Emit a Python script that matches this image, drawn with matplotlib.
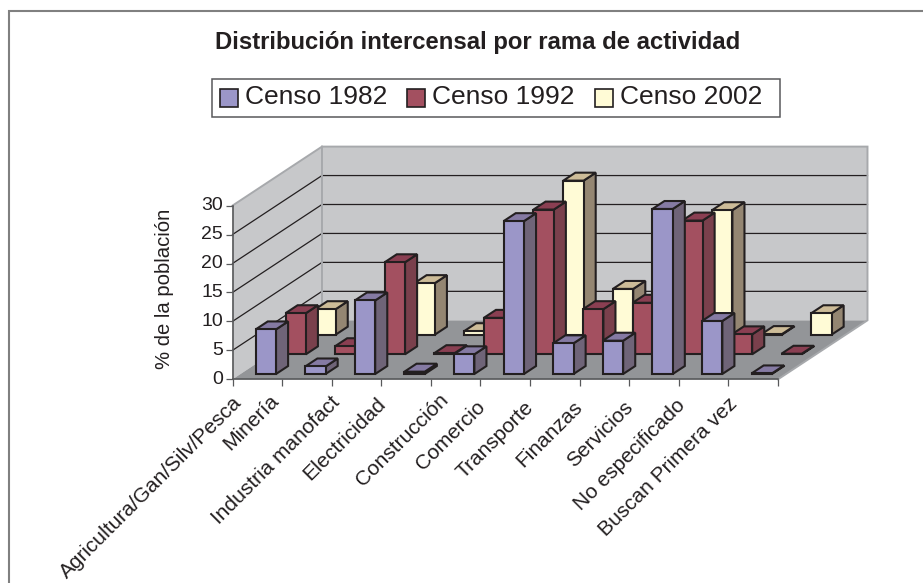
import numpy as np
import matplotlib
matplotlib.use("Agg")
import matplotlib.pyplot as plt
from matplotlib.patches import Polygon, Patch, Rectangle
from matplotlib.lines import Line2D
from matplotlib.legend_handler import HandlerPatch
from matplotlib.transforms import ScaledTranslation

plt.rcParams['font.family'] = ['Liberation Sans', 'DejaVu Sans']

categories = ["Agricultura/Gan/Silv/Pesca", "Minería", "Industria manofact", "Electricidad",
              "Construcción", "Comercio", "Transporte", "Finanzas", "Servicios",
              "No especificado", "Buscan Primera vez"]
series_names = ["Censo 1982", "Censo 1992", "Censo 2002"]
censo_1982 = [7.7, 1.3, 12.7, 0.4, 3.4, 26.4, 5.3, 5.75, 28.5, 9.15, 0.1]
censo_1992 = [7.1, 1.4, 15.9, 0.2, 6.3, 25.0, 7.8, 8.9, 23.1, 3.45, 0.1]
censo_2002 = [4.4, 1.0, 8.9, 0.6, 5.0, 26.6, 7.9, 6.0, 21.5, 0.1, 3.7]
y_ticks = [0, 5, 10, 15, 20, 25, 30]

# pixel nudges of each category label (style only)
label_dx = [1, -12, -1, -4, 9, -4, -5, -6, -5, -2, 0]
label_dy = [-5, -7, -5, -3, -7, 0, 0, 0, 0, -2, -3]

colors = [("#9b96c8", "#6f6478", "#857aa3"),
          ("#a35060", "#7a404c", "#8a3f52"),
          ("#fffbd6", "#948672", "#cdbc98")]
INK = "#231f20"

W, H = 923, 583
fig = plt.figure(figsize=(W / 100, H / 100), dpi=100)
ax = fig.add_axes([232.5 / W, 1 - 379.3 / H, 545.5 / W, 173.7 / H])
ax.set_xlim(0, len(categories))
ax.set_ylim(0, 30)
ax.patch.set_visible(False)

# oblique projection: depth d (0..1) shifts a point in axis units
DX, DY = 89.5 / 49.6, 59 / 5.79
def P(c, v, d):
    return (c + d * DX, v + d * DY)

def poly(pts, fc, ec=None, lw=0.0, z=1):
    ax.add_patch(Polygon(pts, closed=True, fc=fc, ec=ec if ec else fc, lw=lw,
                         clip_on=False, zorder=z, joinstyle='miter'))

n = len(categories)
top = y_ticks[-1]
WALL, FLOOR, EDGE = "#c7c8ca", "#939598", "#a7a9ac"
poly([P(0, 0, 0), P(0, top, 0), P(0, top, 1), P(0, 0, 1)], WALL)
poly([P(0, 0, 1), P(0, top, 1), P(n, top, 1), P(n, 0, 1)], WALL)
poly([P(0, 0, 0), P(0, 0, 1), P(n, 0, 1), P(n, 0, 0)], FLOOR)
for v in y_ticks[1:-1]:
    a, b, c = P(0, v, 0), P(0, v, 1), P(n, v, 1)
    ax.plot([a[0], b[0], c[0]], [a[1], b[1], c[1]], color=INK, lw=0.9, clip_on=False, zorder=1.2)
for pts in ([P(0, 0, 1), P(0, top, 1), P(n, top, 1), P(n, 0, 1), P(n, 0, 0)],
            [P(0, top, 0), P(0, top, 1)]):
    ax.plot([p[0] for p in pts], [p[1] for p in pts], color=EDGE, lw=1.4, clip_on=False,
            zorder=1.3, solid_joinstyle='miter')

BAR_W, BAR_D, X_OFF, D_OFF, ROW = 0.41, 0.135, 0.305, 0.09, 1 / 3
all_series = [censo_1982, censo_1992, censo_2002]
for s in (2, 1, 0):
    face, side, cap = colors[s]
    d0 = D_OFF + s * ROW
    d1 = d0 + BAR_D
    for i, v in enumerate(all_series[s]):
        x0 = i + X_OFF
        x1 = x0 + BAR_W
        kw = dict(ec=INK, lw=1.5, z=2)
        poly([P(x1, 0, d0), P(x1, v, d0), P(x1, v, d1), P(x1, 0, d1)], side, **kw)
        poly([P(x0, v, d0), P(x0, v, d1), P(x1, v, d1), P(x1, v, d0)], cap, **kw)
        poly([P(x0, 0, d0), P(x0, v, d0), P(x1, v, d0), P(x1, 0, d0)], face, **kw)

for sp in ("top", "right"):
    ax.spines[sp].set_visible(False)
for sp in ("left", "bottom"):
    ax.spines[sp].set_color("#58595b")
    ax.spines[sp].set_linewidth(1.2)
    ax.spines[sp].set_zorder(3)

ax.set_yticks(y_ticks)
ax.tick_params(axis='y', length=5, width=0.9, color="#58595b", labelsize=14, labelcolor=INK, pad=2)
up = ScaledTranslation(0, 2 / 100, fig.dpi_scale_trans)
for lab in ax.get_yticklabels():
    lab.set_transform(lab.get_transform() + up)

ax.set_xticks(np.arange(n + 1), minor=True)
ax.tick_params(axis='x', which='minor', length=5, width=0.9, color="#58595b")
ax.set_xticks(np.arange(n) + 0.5)
ax.set_xticklabels(categories, rotation=45, ha='right', va='center', rotation_mode='anchor',
                   fontsize=15, color=INK)
ax.tick_params(axis='x', which='major', length=0, pad=18)
for lab, dx, dy in zip(ax.get_xticklabels(), label_dx, label_dy):
    shift = ScaledTranslation((dx - 19) / 100, -dy / 100, fig.dpi_scale_trans)
    lab.set_transform(lab.get_transform() + shift)

fig.text(165 / W, 1 - 289 / H, "% de la población", rotation=90, ha='center', va='center',
         fontsize=14.6, color=INK)
fig.text(477.5 / W, 1 - 42 / H, "Distribución intercensal por rama de actividad", ha='center',
         va='center', fontsize=17.2, fontweight='bold', color=INK)

# legend frame has uneven padding in the reference, so it is drawn on its own
fig.add_artist(Rectangle((212 / W, 1 - 117.3 / H), 568 / W, 38.3 / H, fc="none", ec="#58595b",
                         lw=1.1, transform=fig.transFigure, zorder=0.5))

def low_patch(legend, orig_handle, xdescent, ydescent, width, height, fontsize):
    return Rectangle((-xdescent, -ydescent - 2.5), width, height)

handles = [Patch(fc=colors[k][0], ec=INK, lw=1.2) for k in range(3)]
leg = ax.legend(handles, series_names, ncol=3, loc='center left',
                bbox_to_anchor=(219.5 / W, 1 - 97 / H), bbox_transform=fig.transFigure,
                fontsize=19, frameon=False, handlelength=0.69, handleheight=0.69,
                handletextpad=0.26, columnspacing=0.76, borderpad=0, borderaxespad=0,
                labelcolor=INK, handler_map={Patch: HandlerPatch(patch_func=low_patch)})
leg.set_zorder(5)

fig.add_artist(Line2D([9 / W, 9 / W, 1], [0, 1 - 11 / H, 1 - 11 / H], color="#808080", lw=1.5,
                      solid_joinstyle='miter'))

fig.savefig("out.png", dpi=100)
